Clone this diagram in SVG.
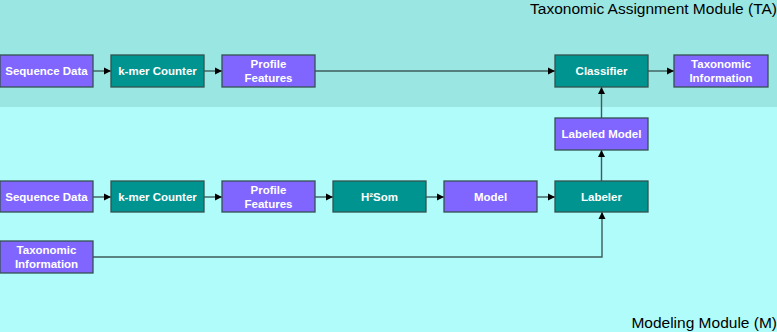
<svg xmlns="http://www.w3.org/2000/svg" width="777" height="332" viewBox="0 0 777 332">
<style>
.p{fill:#8066ff;stroke:#33524f;stroke-width:1.3}
.t{fill:#009490;stroke:#33524f;stroke-width:1.3}
.l{font-family:"Liberation Sans",Arial,sans-serif;font-weight:bold;font-size:11.5px;fill:#ffffff;text-anchor:middle}
.m{font-family:"Liberation Sans",Arial,sans-serif;font-size:15.5px;fill:#000000;text-anchor:end}
.c{fill:none;stroke:#3d5c5a;stroke-width:1.4}
</style>
<defs>
<marker id="a" markerWidth="8" markerHeight="8" refX="7" refY="4" orient="auto" markerUnits="userSpaceOnUse">
<path d="M0,0.5 L7,4 L0,7.5 Z" fill="#000"/>
</marker>
</defs>
<rect x="0" y="0" width="777" height="107" fill="#9ae6e2"/>
<rect x="0" y="107" width="777" height="225" fill="#b0fcfb"/>
<text class="m" x="777" y="14">Taxonomic Assignment Module (TA)</text>
<text class="m" x="777" y="328">Modeling Module (M)</text>
<g id="connectors">
<path class="c" marker-end="url(#a)" d="M93,71 H111"/>
<path class="c" marker-end="url(#a)" d="M204,71 H222"/>
<path class="c" marker-end="url(#a)" d="M315,71 H555"/>
<path class="c" marker-end="url(#a)" d="M648,71 H674"/>
<path class="c" marker-end="url(#a)" d="M93,197 H111"/>
<path class="c" marker-end="url(#a)" d="M204,197 H222"/>
<path class="c" marker-end="url(#a)" d="M315,197 H333"/>
<path class="c" marker-end="url(#a)" d="M426,197 H444"/>
<path class="c" marker-end="url(#a)" d="M537,197 H555"/>
<path class="c" marker-end="url(#a)" d="M601.5,181 V150"/>
<path class="c" marker-end="url(#a)" d="M601.5,118 V87"/>
<path class="c" marker-end="url(#a)" d="M93,257 H602 V212"/>
</g>
<g id="ta_seq"><rect class="p" x="0" y="55" width="93" height="32"/><text class="l" x="46.5" y="75">Sequence Data</text></g>
<g id="ta_kmer"><rect class="t" x="111" y="55" width="93" height="32"/><text class="l" x="157.5" y="75">k-mer Counter</text></g>
<g id="ta_profile"><rect class="p" x="222" y="55" width="93" height="32"/><text class="l" x="268.5" y="68">Profile</text><text class="l" x="268.5" y="82">Features</text></g>
<g id="ta_classifier"><rect class="t" x="555" y="55" width="93" height="32"/><text class="l" x="601.5" y="75">Classifier</text></g>
<g id="ta_taxinfo"><rect class="p" x="674" y="55" width="94" height="32"/><text class="l" x="721" y="68">Taxonomic</text><text class="l" x="721" y="82">Information</text></g>
<g id="m_labeledmodel"><rect class="p" x="555" y="118" width="93" height="32"/><text class="l" x="601.5" y="138">Labeled Model</text></g>
<g id="m_seq"><rect class="p" x="0" y="181" width="93" height="31"/><text class="l" x="46.5" y="201">Sequence Data</text></g>
<g id="m_kmer"><rect class="t" x="111" y="181" width="93" height="31"/><text class="l" x="157.5" y="201">k-mer Counter</text></g>
<g id="m_profile"><rect class="p" x="222" y="181" width="93" height="31"/><text class="l" x="268.5" y="194">Profile</text><text class="l" x="268.5" y="208">Features</text></g>
<g id="m_h2som"><rect class="t" x="333" y="181" width="93" height="31"/><text class="l" x="379.5" y="201">H²Som</text></g>
<g id="m_model"><rect class="p" x="444" y="181" width="93" height="31"/><text class="l" x="490.5" y="201">Model</text></g>
<g id="m_labeler"><rect class="t" x="555" y="181" width="93" height="31"/><text class="l" x="601.5" y="201">Labeler</text></g>
<g id="m_taxinfo"><rect class="p" x="0" y="241" width="93" height="32"/><text class="l" x="46.5" y="254">Taxonomic</text><text class="l" x="46.5" y="268">Information</text></g>
</svg>
